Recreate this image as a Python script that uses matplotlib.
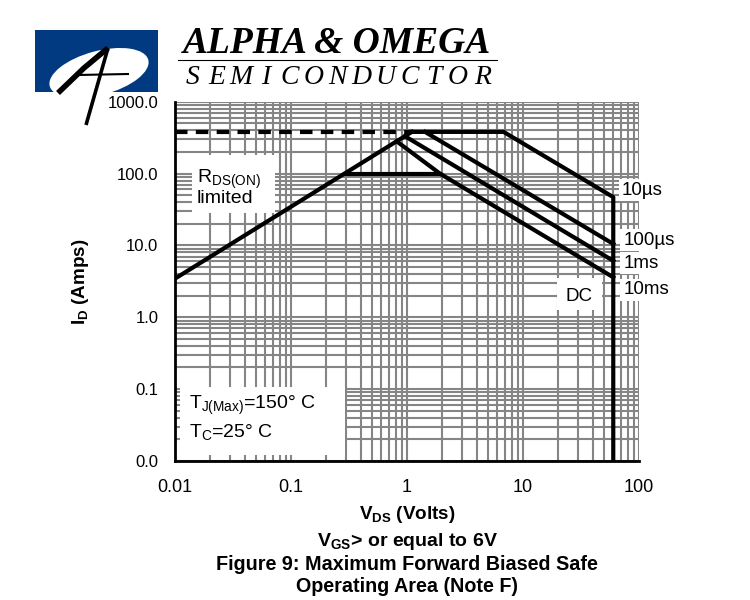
import matplotlib
matplotlib.use("Agg")
import matplotlib.pyplot as plt
from matplotlib.patches import Rectangle, Ellipse
from matplotlib.ticker import FixedLocator, FixedFormatter, NullFormatter, LogLocator

plt.rcParams['font.family'] = ['Liberation Sans', 'DejaVu Sans']
plt.rcParams['mathtext.fontset'] = 'custom'
plt.rcParams['mathtext.rm'] = 'Liberation Sans'
plt.rcParams['mathtext.default'] = 'regular'

# axis ticks
x_ticks = [0.01, 0.1, 1, 10, 100]
x_tick_labels = ['0.01', '0.1', '1', '10', '100']
y_ticks = [0.01, 0.1, 1, 10, 100, 1000]
y_tick_labels = ['0.0', '0.1', '1.0', '10.0', '100.0', '1000.0']

# SOA boundaries (Vds in volts, Id in amps)
vds_rds = [0.01, 1.1]
id_rds = [3.45, 380]
vds_pulse_lim = [0.01, 1.1]
id_pulse_lim = [380, 380]
vds_10us = [1.1, 6.8, 60, 60]
id_10us = [380, 380, 47, 0.01]
vds_100us = [1.43, 60]
id_100us = [380, 10.5]
vds_1ms = [0.96, 60]
id_1ms = [331, 6.1]
vds_10ms = [0.815, 1.92, 60]
id_10ms = [281, 100, 3.6]
vds_dc = [0.29, 1.92]
id_dc = [100, 100]

fig = plt.figure(figsize=(7.5, 6), dpi=100)
ax = fig.add_axes([0.2333, 0.2317, 0.6187, 0.5988])
ax.set_xscale('log')
ax.set_yscale('log')
ax.set_xlim(0.01, 100)
ax.set_ylim(0.01, 1000)

ax.xaxis.set_major_locator(FixedLocator(x_ticks))
ax.xaxis.set_major_formatter(FixedFormatter(x_tick_labels))
ax.yaxis.set_major_locator(FixedLocator(y_ticks))
ax.yaxis.set_major_formatter(FixedFormatter(y_tick_labels))
for a in (ax.xaxis, ax.yaxis):
    a.set_minor_locator(LogLocator(base=10, subs=range(2, 10), numticks=20))
    a.set_minor_formatter(NullFormatter())

ax.set_axisbelow(True)
ax.grid(which='both', color='#858585', lw=1.5)
ax.tick_params(which='both', length=0)
ax.tick_params(axis='x', labelsize=13, pad=13)
ax.tick_params(axis='y', labelsize=12, pad=12)

for s in ('top', 'right'):
    ax.spines[s].set_visible(False)
for s in ('left', 'bottom'):
    ax.spines[s].set_linewidth(2)
    ax.spines[s].set_zorder(5)

# white patches hiding the grid behind the notes
for (x0, y0, w, h) in [(0.037, 0.69, 0.179, 0.162),
                       (0.011, 0.017, 0.355, 0.189),
                       (0.823, 0.42, 0.097, 0.089)]:
    ax.add_patch(Rectangle((x0, y0), w, h, transform=ax.transAxes,
                           facecolor='white', edgecolor='none', zorder=1))

kw = dict(color='black', lw=3, zorder=3)
ax.plot(vds_rds, id_rds, **kw)
ax.plot(vds_pulse_lim, id_pulse_lim, ls=(0, (3, 2)), **kw)
ax.plot(vds_10us, id_10us, **kw)
ax.plot(vds_100us, id_100us, **kw)
ax.plot(vds_1ms, id_1ms, **kw)
ax.plot(vds_10ms, id_10ms, **kw)
ax.plot(vds_dc, id_dc, **kw)

ax.text(0.047, 0.762, 'R$_{DS(ON)}$\nlimited', transform=ax.transAxes,
        fontsize=14, va='center', ha='left', linespacing=0.95, zorder=4)
ax.text(0.030, 0.156, 'T$_{J(Max)}$=150° C', transform=ax.transAxes,
        fontsize=14, va='center', ha='left', zorder=4)
ax.text(0.030, 0.081, 'T$_{C}$=25° C', transform=ax.transAxes,
        fontsize=14, va='center', ha='left', zorder=4)
ax.text(0.841, 0.457, 'DC', transform=ax.transAxes,
        fontsize=13.5, va='center', ha='left', zorder=4)

wbox = dict(facecolor='white', edgecolor='none', pad=2)
for lab, xf, yf in [('10µs', 0.962, 0.754), ('100µs', 0.966, 0.615),
                    ('1ms', 0.966, 0.551), ('10ms', 0.966, 0.476)]:
    ax.text(xf, yf, lab, transform=ax.transAxes, fontsize=13.5,
            va='center', ha='left', bbox=wbox, clip_on=False, zorder=4)

ax.set_xlabel('V$_{DS}$ (Volts)', fontsize=13.6, fontweight='bold', labelpad=6)
ax.set_ylabel('I$_{D}$ (Amps)', fontsize=13.6, fontweight='bold', labelpad=12)

fig.text(0.543, 1 - 541 / 600, 'V$_{GS}$> or equal to 6V', fontsize=14,
         fontweight='bold', ha='center', va='center')
fig.text(0.543, 1 - 564 / 600, 'Figure 9: Maximum Forward Biased Safe',
         fontsize=14.2, fontweight='bold', ha='center', va='center')
fig.text(0.543, 1 - 587 / 600, 'Operating Area (Note F)', fontsize=14.2,
         fontweight='bold', ha='center', va='center')

# company logo / header, drawn in pixel coords
lg = fig.add_axes([0, 0, 1, 1], zorder=10)
lg.set_xlim(0, 750)
lg.set_ylim(600, 0)
lg.axis('off')
box = Rectangle((35, 30), 123, 62, facecolor='#013a80', edgecolor='none')
lg.add_patch(box)
ell = Ellipse((99, 73), 102, 44, angle=-15, facecolor='white', edgecolor='none')
lg.add_patch(ell)
ell.set_clip_path(box)
lg.plot([58, 84, 108], [93, 68, 48], color='black', lw=4, solid_capstyle='butt')
lg.plot([108, 86], [48, 125], color='black', lw=2.6, solid_capstyle='butt')
lg.plot([78, 128], [75, 74], color='black', lw=1.5)

lg.text(183, 53, 'ALPHA & OMEGA', family='Liberation Serif', style='italic',
        fontweight='bold', fontsize=27, va='baseline', ha='left')
lg.plot([178, 497], [60, 60], color='black', lw=0.8)
for i, ch in enumerate('SEMICONDUCTOR'):
    lg.text(193 + i * 24.1, 84, ch, family='Liberation Serif', style='italic',
            fontsize=20, va='baseline', ha='center')

fig.savefig('out.png', dpi=100)
